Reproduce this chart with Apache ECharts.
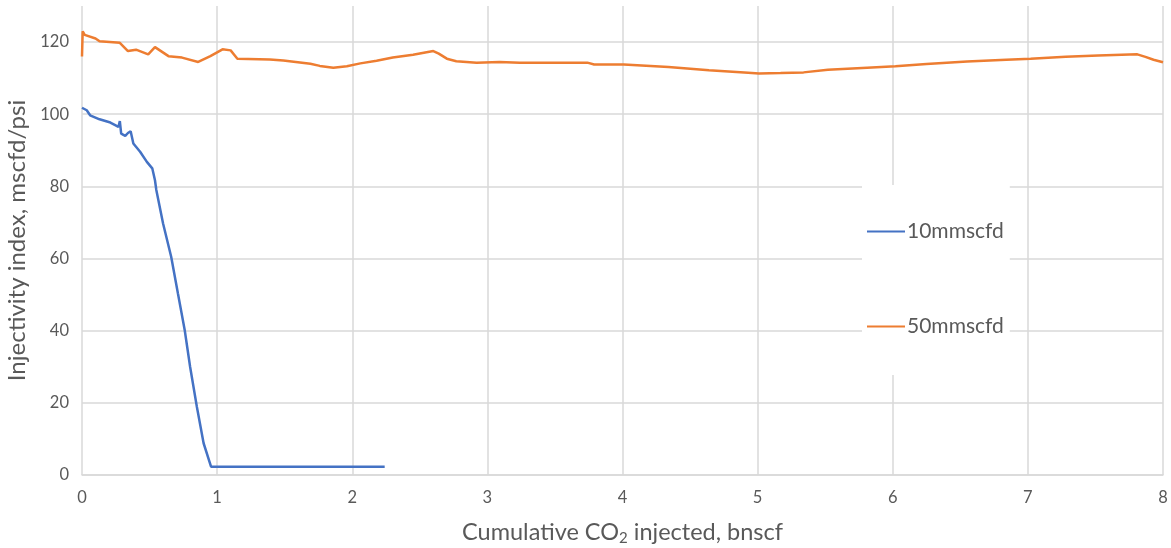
<!DOCTYPE html>
<html><head><meta charset="utf-8">
<script src="https://cdn.jsdelivr.net/npm/echarts@6/dist/echarts.min.js"></script>
<style>html,body{margin:0;padding:0;background:#fff}#c{width:1171px;height:548px}</style>
</head><body><div id="c"></div>
<script>
const seriesNames = ['10mmscfd', '50mmscfd'];
const blueX = [0, 0.035, 0.06, 0.13, 0.21, 0.27, 0.28, 0.29, 0.32, 0.34, 0.36, 0.38, 0.43, 0.48, 0.52, 0.54, 0.55, 0.60, 0.66, 0.71, 0.76, 0.80, 0.85, 0.90, 0.955, 1.24, 2.24];
const blueY = [101.8, 101.1, 99.7, 98.6, 97.7, 96.5, 98.1, 94.6, 94, 94.8, 95.3, 91.9, 89.6, 86.8, 85, 81.7, 79, 69.7, 60.5, 50.3, 40.2, 30, 18.9, 8.8, 2.3, 2.3, 2.3];
const orangeX = [0, 0.005, 0.02, 0.1, 0.13, 0.28, 0.34, 0.40, 0.49, 0.54, 0.64, 0.74, 0.86, 0.95, 1.04, 1.10, 1.15, 1.39, 1.49, 1.69, 1.76, 1.86, 1.96, 2.06, 2.18, 2.30, 2.45, 2.60, 2.64, 2.70, 2.77, 2.92, 3.09, 3.24, 3.74, 3.79, 4.01, 4.34, 4.64, 4.93, 5.01, 5.17, 5.34, 5.52, 5.81, 6.02, 6.25, 6.55, 6.84, 7.02, 7.28, 7.52, 7.81, 7.87, 7.93, 8.0];
const orangeY = [116, 123, 122, 121, 120.2, 119.8, 117.5, 117.9, 116.6, 118.6, 116.1, 115.7, 114.5, 116.1, 118, 117.7, 115.4, 115.2, 114.9, 114, 113.4, 112.9, 113.3, 114.1, 114.8, 115.7, 116.5, 117.5, 116.8, 115.4, 114.7, 114.3, 114.5, 114.3, 114.3, 113.8, 113.8, 113.1, 112.2, 111.5, 111.3, 111.4, 111.6, 112.3, 112.9, 113.3, 113.9, 114.6, 115.1, 115.4, 115.9, 116.3, 116.6, 115.9, 115.1, 114.4];
const xTicks = [0, 1, 2, 3, 4, 5, 6, 7, 8];
const yTicks = [0, 20, 40, 60, 80, 100, 120];

const zip = (xs, ys) => xs.map((x, i) => [x, ys[i]]);
const FONT = 'Lato';
const TXT = '#595959';
const GRID = '#d9d9d9';

const chart = echarts.init(document.getElementById('c'), null, {renderer: 'canvas'});
chart.setOption({
  animation: false,
  backgroundColor: '#fff',
  textStyle: {fontFamily: FONT},
  grid: {left: 82, right: 8, top: 6, bottom: 73, containLabel: false, outerBoundsMode: 'none'},
  legend: {
    orient: 'vertical',
    left: 862, top: 185,
    backgroundColor: '#fff',
    padding: [36, 6, 38, 5],
    itemGap: 74,
    itemWidth: 38, itemHeight: 14,
    icon: 'path://M0,6 L38,6 L38,8 L0,8 Z',
    textStyle: {fontFamily: FONT, fontSize: 21, color: TXT, padding: [0, 0, 0, -3]},
    data: [
      {name: seriesNames[0], itemStyle: {color: '#4472C4'}},
      {name: seriesNames[1], itemStyle: {color: '#ED7D31'}}
    ]
  },
  xAxis: {
    type: 'value', min: xTicks[0], max: xTicks[xTicks.length - 1], interval: 1,
    name: '{a|Cumulative CO}{s|2}{a| injected, bnscf}',
    nameLocation: 'middle', nameGap: 44,
    nameTextStyle: {
      rich: {
        a: {fontFamily: FONT, fontSize: 23.5, color: TXT},
        s: {fontFamily: FONT, fontSize: 15, color: TXT, padding: [12, 0, 0, 0]}
      }
    },
    axisLine: {show: true, lineStyle: {color: GRID, width: 1.5}},
    axisTick: {show: false},
    axisLabel: {color: TXT, fontSize: 16.5, fontFamily: FONT, margin: 14},
    splitLine: {show: true, lineStyle: {color: GRID, width: 1.5}}
  },
  yAxis: {
    type: 'value', min: 0, max: 130, interval: 20,
    name: 'Injectivity index, mscfd/psi',
    nameLocation: 'middle', nameGap: 37,
    nameTextStyle: {fontFamily: FONT, fontSize: 24, color: TXT},
    axisLine: {show: false},
    axisTick: {show: false},
    axisLabel: {color: TXT, fontSize: 16.5, fontFamily: FONT, margin: 13, showMaxLabel: false},
    splitLine: {show: true, showMaxLine: false, lineStyle: {color: GRID, width: 1.5}}
  },
  series: [
    {name: seriesNames[0], type: 'line', data: zip(blueX, blueY), symbol: 'none',
     lineStyle: {color: '#4472C4', width: 2.5}, itemStyle: {color: '#4472C4'}},
    {name: seriesNames[1], type: 'line', data: zip(orangeX, orangeY), symbol: 'none',
     lineStyle: {color: '#ED7D31', width: 2.5}, itemStyle: {color: '#ED7D31'}}
  ]
});
</script></body></html>
